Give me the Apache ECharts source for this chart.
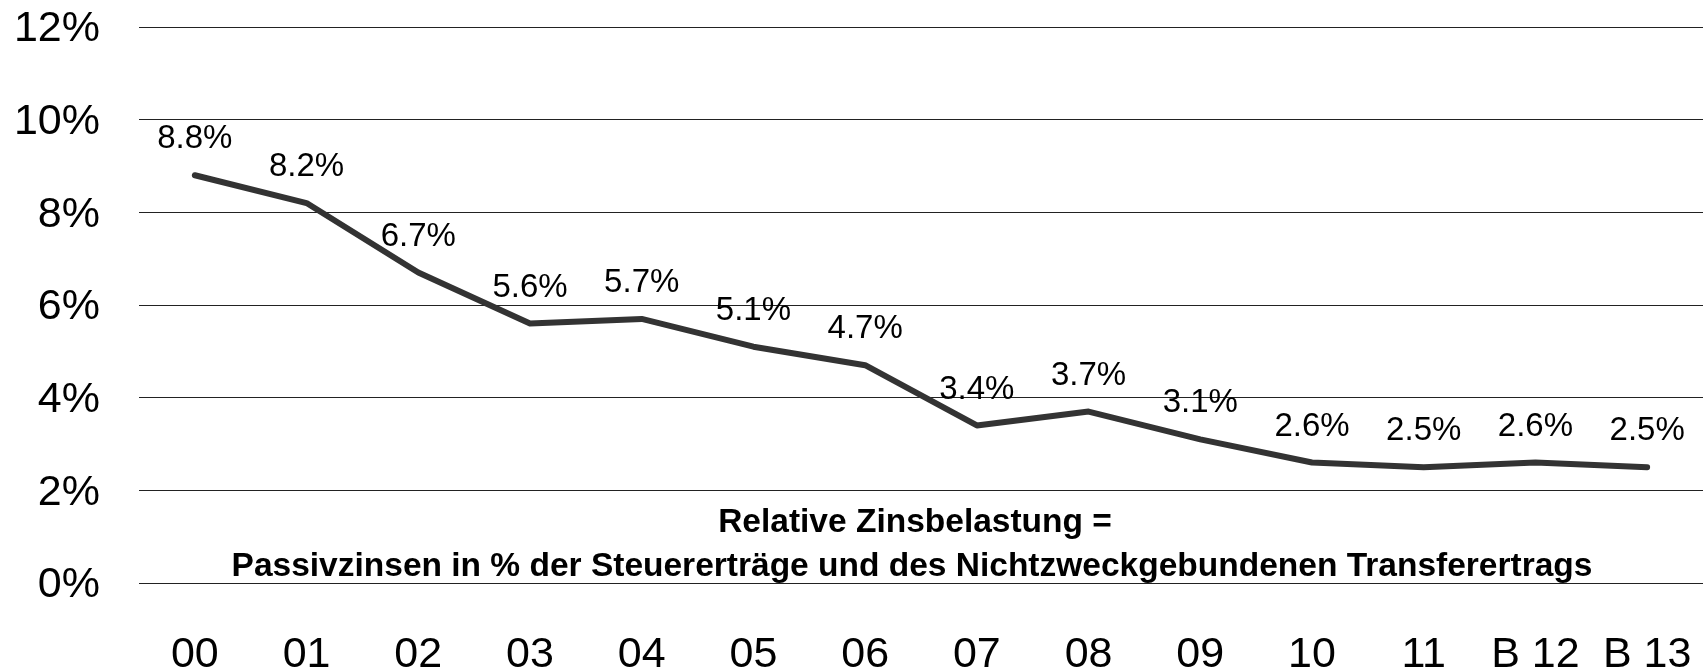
<!DOCTYPE html>
<html>
<head>
<meta charset="utf-8">
<script src="https://cdn.jsdelivr.net/npm/echarts@6/dist/echarts.min.js"></script>
<style>
  * { margin: 0; padding: 0; }
  body { background: #fff; }
  #chart { width: 1703px; height: 672px; }
</style>
</head>
<body>
<div id="chart"></div>
<script>
  // Jahre (Rechnung 2000-2011, Budget 2012/2013)
  const years = ['00', '01', '02', '03', '04', '05', '06', '07', '08', '09', '10', '11', 'B 12', 'B 13']
  // relative Zinsbelastung in %
  const zinsbelastung = [8.8, 8.2, 6.7, 5.6, 5.7, 5.1, 4.7, 3.4, 3.7, 3.1, 2.6, 2.5, 2.6, 2.5]
  const titleLines = [
    'Relative Zinsbelastung =',
    'Passivzinsen in % der Steuererträge und des Nichtzweckgebundenen Transferertrags'
  ]

  const font = '"Liberation Sans", Arial, Helvetica, sans-serif'
  let myChart = echarts.init(document.getElementById('chart'))
  myChart.setOption({
    backgroundColor: '#fff',
    animation: false,
    textStyle: {fontFamily: font},
    grid: {left: 139, right: 0, top: 27, bottom: 89, outerBoundsMode: 'none', containLabel: false},
    xAxis: {
      type: 'category',
      data: years,
      boundaryGap: true,
      axisLine: {show: false},
      axisTick: {show: false},
      axisLabel: {color: '#000', fontSize: 43, margin: 51, interval: 0, fontFamily: font}
    },
    yAxis: {
      type: 'value',
      min: 0,
      max: 12,
      interval: 2,
      axisLine: {show: false},
      axisTick: {show: false},
      axisLabel: {
        color: '#000',
        margin: 39,
        formatter: '{v|{value}%}',
        rich: {v: {fontSize: 43, fontFamily: font, color: '#000', padding: [5, 0, 0, 0]}}
      },
      splitLine: {lineStyle: {color: '#222', width: 1}}
    },
    graphic: [
      {
        type: 'text',
        x: 915,
        y: 523,
        style: {text: titleLines[0], font: 'bold 33.5px ' + font, fill: '#000', textAlign: 'center', textVerticalAlign: 'middle'}
      },
      {
        type: 'text',
        x: 912,
        y: 567,
        style: {text: titleLines[1], font: 'bold 33.5px ' + font, fill: '#000', textAlign: 'center', textVerticalAlign: 'middle'}
      }
    ],
    series: [{
      type: 'line',
      data: zinsbelastung,
      symbol: 'circle',
      symbolSize: 1,
      showSymbol: true,
      itemStyle: {color: 'transparent', borderWidth: 0},
      lineStyle: {color: '#333', width: 6, cap: 'round', join: 'round'},
      label: {
        show: true,
        position: 'top',
        distance: 19,
        color: '#000',
        fontSize: 33,
        fontFamily: font,
        formatter: function (p) { return p.value.toFixed(1) + '%' }
      }
    }]
  })
</script>
</body>
</html>
